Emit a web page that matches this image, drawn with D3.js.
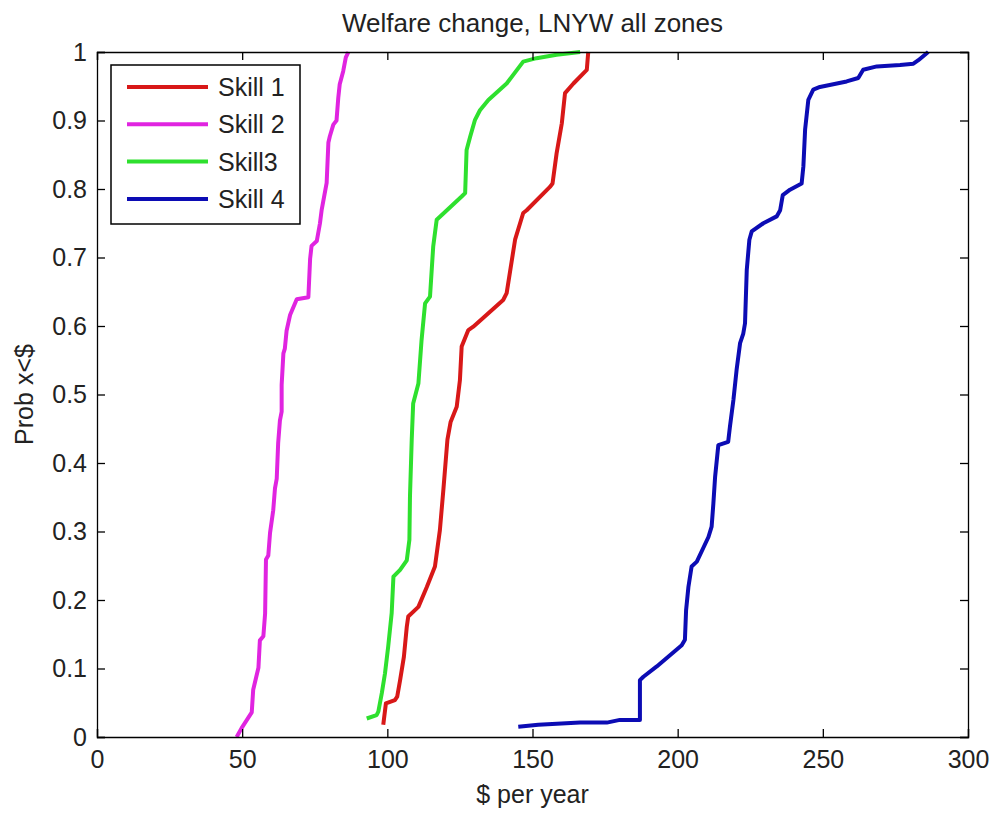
<!DOCTYPE html>
<html>
<head>
<meta charset="utf-8">
<script src="https://cdn.jsdelivr.net/npm/d3@7"></script>
<style>
  body { margin: 0; background: #fff; }
  svg { display: block; font-family: "Liberation Sans", Arial, sans-serif; }
  .axis path, .axis line { stroke: #000; stroke-width: 1.3; }
  .axis text { font-size: 25px; fill: #222; }
</style>
</head>
<body>
<script>
// values: [$ per year, prob]
var skill1 = [[98.6,0.018],[99.5,0.049],[102.6,0.054],[103.4,0.059],[104.4,0.083],[105.7,0.117],
  [106.7,0.161],[107.2,0.176],[110.7,0.190],[113.6,0.219],[116.4,0.249],[118.1,0.302],[119.3,0.361],
  [120.7,0.434],[121.8,0.460],[123.9,0.482],[125.0,0.521],[125.6,0.570],[127.9,0.594],[129.6,0.599],
  [139.9,0.638],[141.1,0.648],[144.0,0.726],[146.8,0.765],[148.0,0.769],[156.0,0.803],[156.9,0.808],
  [158.3,0.852],[160.1,0.896],[161.2,0.940],[164.1,0.954],[168.7,0.974],[169.2,1.0]];

var skill2 = [[48.1,0.0],[49.8,0.013],[53.3,0.036],[53.8,0.069],[55.6,0.101],[56.1,0.141],[57.3,0.147],
  [57.9,0.180],[58.2,0.259],[59.0,0.265],[59.6,0.298],[60.7,0.331],[61.3,0.363],[61.9,0.377],
  [62.4,0.429],[63.0,0.462],[63.6,0.475],[63.6,0.514],[64.2,0.560],[64.7,0.567],[65.3,0.593],
  [66.5,0.616],[68.8,0.639],[72.8,0.642],[73.4,0.698],[73.9,0.717],[75.7,0.724],[76.8,0.750],
  [77.4,0.770],[79.1,0.809],[79.7,0.868],[80.2,0.877],[81.4,0.894],[82.5,0.900],[83.1,0.933],
  [83.6,0.953],[84.8,0.972],[85.7,0.992],[86.6,1.0]];

var skill3 = [[92.9,0.027],[96.3,0.032],[96.9,0.037],[98.1,0.064],[99.2,0.093],[100.3,0.132],
  [101.5,0.181],[102.1,0.234],[104.4,0.244],[106.7,0.258],[107.6,0.288],[107.8,0.351],[108.4,0.434],
  [108.9,0.487],[110.7,0.516],[111.8,0.580],[113.0,0.633],[114.7,0.643],[115.8,0.716],[117.0,0.755],
  [125.6,0.789],[126.8,0.794],[127.3,0.857],[128.5,0.876],[130.2,0.901],[131.9,0.915],[134.8,0.930],
  [141.1,0.954],[146.8,0.986],[151.4,0.991],[158.3,0.996],[166.4,1.0]];

var skill4 = [[145.1,0.015],[152.0,0.018],[166.4,0.021],[175.6,0.021],[180.1,0.025],[187.0,0.025],
  [187.0,0.083],[188.2,0.088],[192.8,0.103],[201.4,0.134],[202.5,0.142],[202.9,0.185],[203.7,0.219],
  [204.8,0.249],[206.6,0.256],[210.6,0.292],[211.7,0.307],[212.3,0.341],[212.9,0.380],[214.0,0.426],
  [217.4,0.431],[218.0,0.453],[219.2,0.492],[220.3,0.536],[221.5,0.575],[222.6,0.589],[223.2,0.604],
  [223.8,0.682],[224.7,0.726],[225.5,0.738],[229.5,0.750],[234.1,0.760],[235.3,0.769],[236.2,0.791],
  [238.7,0.799],[242.7,0.808],[243.3,0.833],[243.9,0.887],[245.0,0.930],[246.7,0.945],[249.0,0.949],
  [258.2,0.957],[262.2,0.962],[263.9,0.974],[268.6,0.979],[276.6,0.981],[281.2,0.983],[282.9,0.988],
  [286.3,1.0]];

var seriesNames = ["Skill 1", "Skill 2", "Skill3", "Skill 4"];
var seriesColors = ["#d81818", "#e024e0", "#2ee02e", "#0c0cb4"];
var xTicks = [0, 50, 100, 150, 200, 250, 300];
var yTicks = [0, 0.1, 0.2, 0.3, 0.4, 0.5, 0.6, 0.7, 0.8, 0.9, 1];

var W = 994, H = 816;
var box = { left: 97, right: 968, top: 52, bottom: 737 };

var svg = d3.select("body").append("svg")
    .attr("width", W)
    .attr("height", H);

var x = d3.scaleLinear().domain([0, 300]).range([box.left, box.right]);
var y = d3.scaleLinear().domain([0, 1]).range([box.bottom, box.top]);

// curves
var line = d3.line()
    .x(function(d) { return x(d[0]); })
    .y(function(d) { return y(d[1]); });

[skill1, skill2, skill3, skill4].forEach(function(s, i) {
    svg.append("path")
        .attr("d", line(s))
        .attr("fill", "none")
        .attr("stroke", seriesColors[i])
        .attr("stroke-width", 4)
        .attr("stroke-linejoin", "round");
});

// axes, ticks inward on all four sides
var fmt = d3.format("~g");
svg.append("g").attr("class", "axis")
    .attr("transform", "translate(0," + box.bottom + ")")
    .call(d3.axisBottom(x).tickValues(xTicks).tickSize(-8).tickPadding(13).tickFormat(fmt));
svg.append("g").attr("class", "axis")
    .attr("transform", "translate(0," + box.top + ")")
    .call(d3.axisTop(x).tickValues(xTicks).tickSize(-8).tickFormat(""));
svg.append("g").attr("class", "axis")
    .attr("transform", "translate(" + box.left + ",0)")
    .call(d3.axisLeft(y).tickValues(yTicks).tickSize(-8).tickPadding(10).tickFormat(fmt));
svg.append("g").attr("class", "axis")
    .attr("transform", "translate(" + box.right + ",0)")
    .call(d3.axisRight(y).tickValues(yTicks).tickSize(-8).tickFormat(""));
svg.selectAll(".axis .domain").attr("stroke-width", 1.5);

// titles
svg.append("text")
    .attr("x", (box.left + box.right) / 2).attr("y", 32)
    .attr("text-anchor", "middle")
    .attr("font-size", 26).attr("fill", "#222")
    .text("Welfare change, LNYW all zones");
svg.append("text")
    .attr("x", (box.left + box.right) / 2).attr("y", 803)
    .attr("text-anchor", "middle")
    .attr("font-size", 25).attr("fill", "#222")
    .text("$ per year");
svg.append("text")
    .attr("transform", "translate(33," + (box.top + box.bottom) / 2 + ") rotate(-90)")
    .attr("text-anchor", "middle")
    .attr("font-size", 25).attr("fill", "#222")
    .text("Prob x<$");

// legend
var legend = svg.append("g");
legend.append("rect")
    .attr("x", 111).attr("y", 65)
    .attr("width", 189).attr("height", 159)
    .attr("fill", "#fff").attr("stroke", "#000").attr("stroke-width", 1.5);
var item = legend.selectAll("g.item")
    .data(seriesNames)
    .enter().append("g")
      .attr("class", "item")
      .attr("transform", function(d, i) { return "translate(0," + (87 + i * 37.3) + ")"; });
item.append("line")
    .attr("x1", 127).attr("x2", 208)
    .attr("stroke", function(d, i) { return seriesColors[i]; })
    .attr("stroke-width", 4);
item.append("text")
    .attr("x", 218).attr("y", 9)
    .attr("font-size", 25).attr("fill", "#222")
    .text(function(d) { return d; });
</script>
</body>
</html>
